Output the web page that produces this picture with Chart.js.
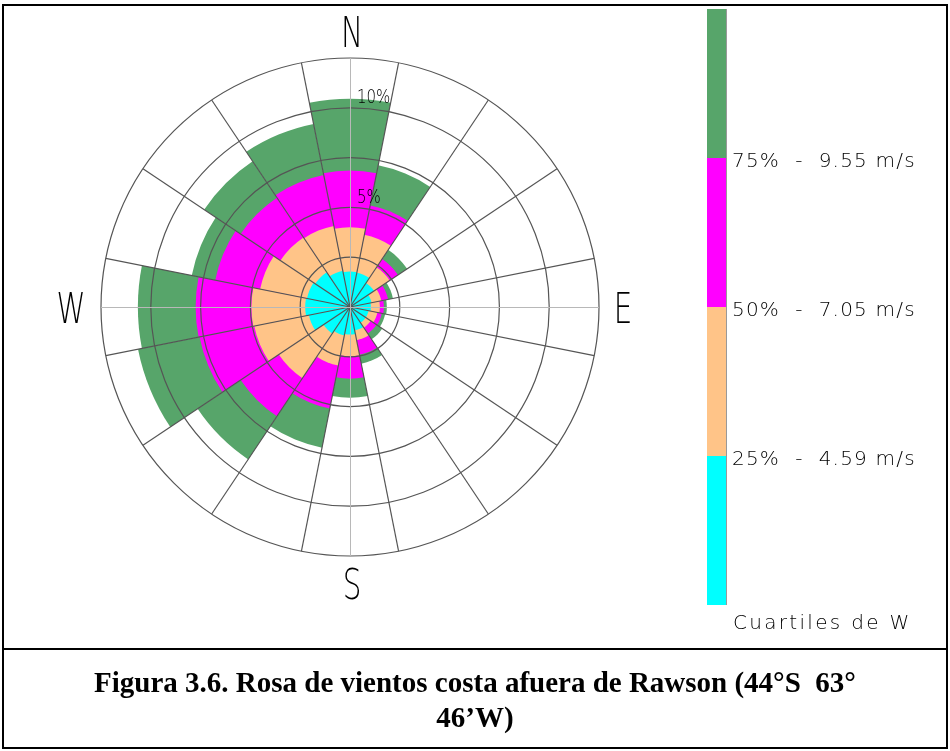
<!DOCTYPE html>
<html>
<head>
<meta charset="utf-8">
<script src="https://cdn.jsdelivr.net/npm/chart.js@4.4.1/dist/chart.umd.min.js"></script>
<style>
  body { margin: 0; background: #fff; }
  #wrap { position: relative; width: 950px; height: 751px; overflow: hidden; }
  #frame { position: absolute; left: 2px; top: 4px; width: 942px; height: 741px; border: 2px solid #000; }
  #sep { position: absolute; left: 2px; top: 648px; width: 946px; height: 2px; background: #000; }
  #bar { position: absolute; left: 707px; top: 9px; width: 19px; border-right: 1px solid #999; }
  #bar div { height: 149px; }
  .lbl { position: absolute; left: 732px; font: 200 20px 'DejaVu Sans', sans-serif; letter-spacing: 1.2px;
         line-height: 20px; color: #000; white-space: pre; }
  #caption { position: absolute; left: 4px; top: 665px; width: 942px; text-align: center;
             font: bold 29px 'Liberation Serif', 'Times New Roman', serif; line-height: 35px; white-space: pre; }
  canvas { position: absolute; left: 0; top: 0; }
</style>
</head>
<body>
<div id="wrap">
  <div id="frame"></div>
  <div id="sep"></div>
  <canvas id="rose" width="950" height="751"></canvas>
  <div id="bar"></div>
  <div id="legendText"></div>
  <div id="caption">Figura 3.6. Rosa de vientos costa afuera de Rawson (44°S  63°
46’W)</div>
</div>
<script>
// direcciones (16 sectores, empezando en N y en sentido horario)
const directions = ['N','NNE','NE','ENE','E','ESE','SE','SSE','S','SSW','SW','WSW','W','WNW','NW','NNW'];

// frecuencia acumulada (%) hasta cada cuartil de velocidad
const q25 = [1.78, 1.75, 1.45, 1.10, 1.05, 0.95, 0.95, 1.20, 1.38, 1.45, 1.60, 2.10, 2.25, 2.20, 2.10, 1.85];
const q50 = [4.00, 3.70, 2.40, 1.60, 1.50, 1.40, 1.25, 1.70, 2.47, 3.00, 4.30, 4.90, 4.95, 4.60, 4.20, 4.15];
const q75 = [6.85, 5.20, 2.90, 1.95, 1.70, 1.63, 1.60, 2.45, 3.60, 5.20, 6.60, 7.70, 7.75, 6.90, 6.60, 6.75];
const q100 = [10.45, 7.25, 3.45, 2.20, 1.85, 1.80, 1.95, 2.90, 4.55, 7.20, 9.20, 10.85, 10.65, 8.10, 8.80, 9.37];

const colors = ['#00ffff', '#ffc488', '#ff00ff', '#57a56a'];
const legendLabels = ['75%  -  9.55 m/s', '50%  -  7.05 m/s', '25%  -  4.59 m/s'];
const ringLabels = [5, 10];
const cardinals = ['N', 'E', 'S', 'W'];

// barra de colores
const bar = document.getElementById('bar');
colors.slice().reverse().forEach(c => {
  const d = document.createElement('div');
  d.style.background = c;
  bar.appendChild(d);
});
const lt = document.getElementById('legendText');
legendLabels.forEach((t, i) => {
  const d = document.createElement('div');
  d.className = 'lbl';
  d.style.top = (150 + i * 149) + 'px';
  d.textContent = t;
  lt.appendChild(d);
});
const last = document.createElement('div');
last.className = 'lbl';
last.style.top = '612px';
last.style.left = '733px';
last.style.letterSpacing = '2.3px';
last.textContent = 'Cuartiles de W';
lt.appendChild(last);

// etiquetas N/E/S/W, porcentajes y cruz clara
const rosePlugin = {
  id: 'rose',
  afterDraw(chart) {
    const r = chart.scales.r;
    const ctx = chart.ctx;
    const cx = r.xCenter, cy = r.yCenter, R = r.drawingArea;
    ctx.save();
    ctx.strokeStyle = '#b8b8b8';
    ctx.lineWidth = 1;
    ctx.beginPath();
    ctx.moveTo(cx + 0.5, cy - R); ctx.lineTo(cx + 0.5, cy + R);
    ctx.moveTo(cx - R, cy + 0.5); ctx.lineTo(cx + R, cy + 0.5);
    ctx.stroke();

    ctx.fillStyle = '#000';
    ctx.textAlign = 'center';
    ctx.textBaseline = 'middle';
    ctx.font = "200 42px 'DejaVu Sans', sans-serif";
    cardinals.forEach((c, i) => {
      const a = i * Math.PI / 2;
      const dx = i % 2 === 0 ? 2 : -3;
      const x = cx + Math.sin(a) * (R + 27) + dx;
      const y = cy - Math.cos(a) * (R + 27) + 5.5;
      ctx.save();
      ctx.translate(x, y);
      ctx.scale(0.7, 1);
      ctx.fillText(c, 0, 0);
      ctx.restore();
    });

    ctx.textAlign = 'left';
    ctx.font = "200 20px 'DejaVu Sans', sans-serif";
    ringLabels.forEach(v => {
      const d = r.getDistanceFromCenterForValue(v);
      ctx.save();
      ctx.translate(cx + 7, cy - d - 10);
      ctx.scale(0.75, 1);
      ctx.fillText(v + '%', 0, 0);
      ctx.restore();
    });
    ctx.restore();
  }
};

new Chart(document.getElementById('rose'), {
  type: 'polarArea',
  data: {
    labels: directions,
    datasets: [q25, q50, q75, q100].map((d, i) => ({
      label: 'Cuartil ' + (i + 1),
      data: d,
      backgroundColor: colors[i],
      borderWidth: 0
    }))
  },
  options: {
    responsive: false,
    animation: false,
    startAngle: -11.25,
    layout: { padding: { left: 101, top: 58, right: 351, bottom: 195 } },
    plugins: { legend: { display: false }, tooltip: { enabled: false } },
    scales: {
      r: {
        min: 0,
        max: 12.5,
        startAngle: -11.25,
        ticks: { display: false, stepSize: 2.5, z: 1 },
        grid: { circular: true, color: '#555', lineWidth: 1.2, z: 1 },
        angleLines: { display: true, color: '#555', lineWidth: 1.2 },
        pointLabels: { display: false }
      }
    }
  },
  plugins: [rosePlugin]
});
</script>
</body>
</html>
